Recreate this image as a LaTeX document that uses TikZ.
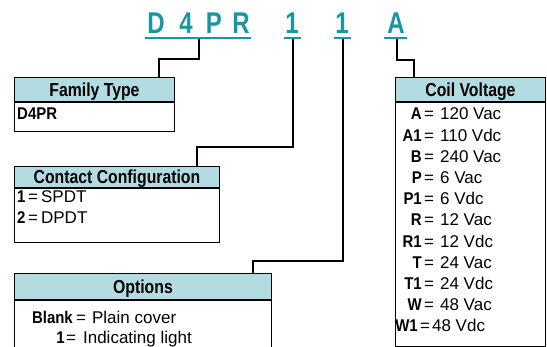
\documentclass[tikz,border=0pt]{standalone}
\usepackage{fontspec}
\setmainfont{Liberation Sans}
\newfontfamily\condf{Liberation Sans}[FakeStretch=0.8]
\newfontfamily\hdrf{Liberation Sans}[FakeStretch=0.84]
\newfontfamily\labf{Liberation Sans}[FakeStretch=0.88]
\definecolor{codeteal}{RGB}{24,150,162}
\definecolor{hdrfill}{RGB}{178,220,226}
\tikzset{
  codeletter/.style={text=codeteal, font=\condf\bfseries\fontsize{30}{30}\selectfont, inner sep=0pt, anchor=base},
  codeline/.style={draw=codeteal, line width=2pt},
  conn/.style={draw=black, line width=1.6pt},
  hdr/.style={draw=black, line width=0.9pt, fill=hdrfill, anchor=north west, inner sep=0pt,
    text height=13.4pt, text depth=0pt, font=\hdrf\bfseries\fontsize{18.8}{18.8}\selectfont},
  bodybox/.style={draw=black, line width=0.9pt, fill=white, anchor=north west, inner sep=0pt},
  lab/.style={font=\labf\bfseries\fontsize{17}{20}\selectfont, inner sep=0pt},
  txt/.style={font=\fontsize{17}{20}\selectfont, inner sep=0pt},
}
\begin{document}
\begin{tikzpicture}[x=1pt,y=-1pt]
\useasboundingbox (0,0) rectangle (547,347);

% code letters
\node[codeletter] (cD) at (156,34) {D};
\node[codeletter] (c4) at (186,34) {4};
\node[codeletter] (cP) at (214,34) {P};
\node[codeletter] (cR) at (241,34) {R};
\node[codeletter] (cOneA) at (292,34) {1};
\node[codeletter] (cOneB) at (342,34) {1};
\node[codeletter] (cA) at (396,34) {A};

\coordinate (ulDs) at (145,38); \coordinate (ulDe) at (251,38);
\coordinate (ul1s) at (284,38); \coordinate (ul1e) at (301,38);
\coordinate (ul2s) at (334,38); \coordinate (ul2e) at (351,38);
\coordinate (ul3s) at (384,38); \coordinate (ul3e) at (407,38);
\draw[codeline] (ulDs) -- (ulDe);
\draw[codeline] (ul1s) -- (ul1e);
\draw[codeline] (ul2s) -- (ul2e);
\draw[codeline] (ul3s) -- (ul3e);

% boxes
\node[hdr, minimum width=160pt, minimum height=24pt] (famh) at (14,77) {Family Type};
\node[bodybox, minimum width=160pt, minimum height=29pt] (famb) at (famh.south west) {};

\node[hdr, minimum width=205pt, minimum height=21pt] (conh) at (14,166) {Contact Configuration};
\node[bodybox, minimum width=205pt, minimum height=54pt] (conb) at (conh.south west) {};

\node[hdr, minimum width=257pt, minimum height=26pt] (opth) at (14,273) {Options};
\node[bodybox, minimum width=257pt, minimum height=70pt] (optb) at (opth.south west) {};

\node[hdr, minimum width=150pt, minimum height=24pt] (coilh) at (395,77) {Coil Voltage};
\node[bodybox, minimum width=150pt, minimum height=244pt] (coilb) at (coilh.south west) {};

% connectors
\coordinate (uD) at (199,39);
\coordinate (u1) at (293,39);
\coordinate (u2) at (343,39);
\coordinate (u3) at (397,39);
\coordinate (k1) at (159,59);
\coordinate (k2) at (197,147);
\coordinate (k3) at (253,261);
\coordinate (k4) at (414,60);
\draw[conn] (uD) |- (k1) -- (k1 |- famh.north);
\draw[conn] (u1) |- (k2) -- (k2 |- conh.north);
\draw[conn] (u2) |- (k3) -- (k3 |- opth.north);
\draw[conn] (u3) |- (k4) -- (k4 |- coilh.north);

% family body
\node[lab, anchor=base west] (famD) at (17,120) {D4PR};

% contact body
\node[lab, anchor=base west] (con1k) at (17,202.5) {1};
\node[txt, anchor=base west] (con1v) at (28,202.5) {=\hspace{3pt}SPDT};
\node[lab, anchor=base west] (con2k) at (17,224) {2};
\node[txt, anchor=base west] (con2v) at (28,224) {=\hspace{3pt}DPDT};

% options body
\node[lab, anchor=base east] (opt1k) at (73,323.5) {Blank};
\node[txt, anchor=base west] (opt1v) at (76,323.5) {=\hspace{6pt}Plain cover};
\node[lab, anchor=base east] (opt2k) at (65,344) {1};
\node[txt, anchor=base west] (opt2v) at (66,344) {=\hspace{7pt}Indicating light};

% coil body
\foreach \k/\v [count=\i from 0] in {A/120 Vac, A1/110 Vdc, B/240 Vac, P/6 Vac, P1/6 Vdc, R/12 Vac, R1/12 Vdc, T/24 Vac, T1/24 Vdc, W/48 Vac} {
  \node[lab, anchor=base east] (ck\i) at (422,{120+21.2*\i}) {\k};
  \node[txt, anchor=base west] (cv\i) at (424,{120+21.2*\i}) {=\hspace{6pt}\v};
}
\node[lab, anchor=base east] (ckW1) at (418,332) {W1};
\node[txt, anchor=base west] (cvW1) at (420,332) {=\hspace{2pt}48 Vdc};
\end{tikzpicture}
\end{document}
